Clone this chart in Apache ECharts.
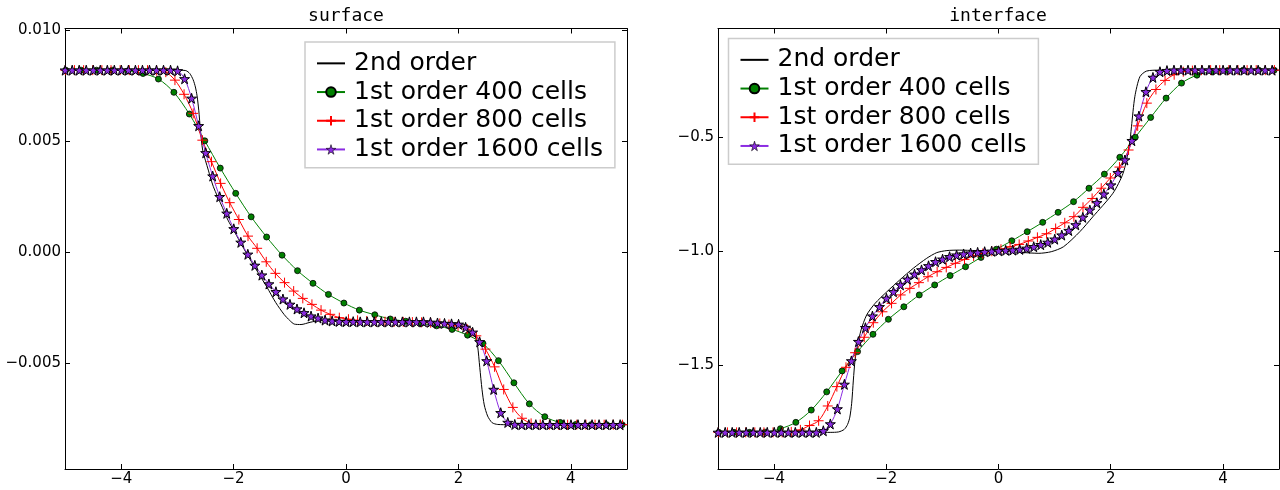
<html>
<head>
<meta charset="utf-8">
<title>surface / interface</title>
<script src="https://cdn.jsdelivr.net/npm/echarts@6.0.0/dist/echarts.min.js"></script>
<style>
body { margin: 0; background: #fff; }
#main { width: 1280px; height: 490px; }
</style>
</head>
<body>
<div id="main"></div>
<script type="text/javascript">
// tick positions and labels
var xTicks = [-4, -2, 0, 2, 4];
var xTickLabels = ['−4', '−2', '0', '2', '4'];
var surfaceTicks = [-0.005, 0, 0.005, 0.01];
var surfaceTickLabels = ['−0.005', '0.000', '0.005', '0.010'];
var interfaceTicks = [-1.5, -1.0, -0.5];
var interfaceTickLabels = ['−1.5', '−1.0', '−0.5'];

var seriesNames = ['2nd order', '1st order 400 cells', '1st order 800 cells', '1st order 1600 cells'];

// 2nd order (solid line only)
var blackSurfaceX = [-5, -3.5, -3.0, -2.85, -2.78, -2.72, -2.68, -2.65, -2.62, -2.59, -2.55, -2.45, -2.36, -2.2, -2.1, -2.0, -1.77, -1.6, -1.41, -1.25, -1.1, -1.0, -0.92, -0.8, -0.64, -0.46, -0.3, 0, 1.0, 1.8, 2.0, 2.15, 2.25, 2.3, 2.34, 2.38, 2.42, 2.46, 2.52, 2.6, 2.7, 2.9, 5];
var blackSurfaceY = [0.00821, 0.00821, 0.00821, 0.00819, 0.00806, 0.00778, 0.00745, 0.00705, 0.0064, 0.0055, 0.0046, 0.0037, 0.00295, 0.00202, 0.00144, 0.00099, -0.00006, -0.00078, -0.00157, -0.00228, -0.00282, -0.00309, -0.00325, -0.00327, -0.00317, -0.00309, -0.00312, -0.00315, -0.00316, -0.00319, -0.00322, -0.0033, -0.0035, -0.0038, -0.0042, -0.0052, -0.0062, -0.0069, -0.0074, -0.0077, -0.00778, -0.00779, -0.00779];
var blackInterfaceX = [-5, -3.0, -2.85, -2.75, -2.69, -2.65, -2.617, -2.587, -2.557, -2.516, -2.45, -2.35, -2.2, -1.99, -1.76, -1.52, -1.28, -1.1, -0.92, -0.7, -0.4, 0, 0.4, 0.72, 0.94, 1.16, 1.45, 1.68, 2.04, 2.22, 2.33, 2.37, 2.43, 2.52, 2.64, 2.87, 5];
var blackInterfaceY = [-1.797, -1.797, -1.795, -1.784, -1.762, -1.73, -1.669, -1.567, -1.479, -1.42, -1.347, -1.281, -1.23, -1.179, -1.127, -1.076, -1.032, -1.007, -0.998, -0.996, -0.998, -1.0, -1.006, -1.01, -1.003, -0.981, -0.915, -0.85, -0.746, -0.659, -0.542, -0.454, -0.322, -0.234, -0.209, -0.205, -0.205];

// 1st order 400 cells (marked points)
var x400 = [-4.9875, -4.7125, -4.4375, -4.1625, -3.8875, -3.6125, -3.3375, -3.0625, -2.7875, -2.5125,
  -2.2375, -1.9625, -1.6875, -1.4125, -1.1375, -0.8625, -0.5875, -0.3125, -0.0375, 0.2375,
  0.5125, 0.7875, 1.0625, 1.3375, 1.6125, 1.8875, 2.1625, 2.4375, 2.7125, 2.9875,
  3.2625, 3.5375, 3.8125, 4.0875, 4.3625, 4.6375, 4.9125];
var surface400 = [0.00821, 0.00821, 0.00821, 0.00821, 0.00817, 0.00806, 0.00781, 0.00721, 0.00623, 0.00502,
  0.00379, 0.00265, 0.00159, 0.00068, -0.00014, -0.00084, -0.00141, -0.00191, -0.0023, -0.00262,
  -0.00283, -0.00302, -0.00312, -0.00322, -0.00333, -0.00349, -0.00375, -0.00413, -0.0049, -0.0059,
  -0.00685, -0.00743, -0.00769, -0.00778, -0.00779, -0.00779, -0.00779];
var interface400 = [-1.797, -1.797, -1.797, -1.796, -1.781, -1.753, -1.699, -1.619, -1.527, -1.442,
  -1.366, -1.300, -1.245, -1.193, -1.149, -1.108, -1.069, -1.028, -0.992, -0.955,
  -0.915, -0.874, -0.830, -0.783, -0.724, -0.662, -0.588, -0.500, -0.413, -0.328,
  -0.262, -0.227, -0.212, -0.207, -0.205, -0.205, -0.205];

// 1st order 800 cells
var x800 = [-4.99375, -4.83125, -4.66875, -4.50625, -4.34375, -4.18125, -4.01875, -3.85625, -3.69375, -3.53125,
  -3.36875, -3.20625, -3.04375, -2.88125, -2.71875, -2.55625, -2.39375, -2.23125, -2.06875, -1.90625,
  -1.74375, -1.58125, -1.41875, -1.25625, -1.09375, -0.93125, -0.76875, -0.60625, -0.44375, -0.28125,
  -0.11875, 0.04375, 0.20625, 0.36875, 0.53125, 0.69375, 0.85625, 1.01875, 1.18125, 1.34375,
  1.50625, 1.66875, 1.83125, 1.99375, 2.15625, 2.31875, 2.48125, 2.64375, 2.80625, 2.96875,
  3.13125, 3.29375, 3.45625, 3.61875, 3.78125, 3.94375, 4.10625, 4.26875, 4.43125, 4.59375,
  4.75625, 4.91875];
var surface800 = [0.00821, 0.00821, 0.00821, 0.00821, 0.00821, 0.00821, 0.00821, 0.00821, 0.00821, 0.00821,
  0.00819, 0.00812, 0.00776, 0.00712, 0.00626, 0.00505, 0.00408, 0.00310, 0.00223, 0.00147,
  0.00072, 0.00017, -0.00044, -0.00096, -0.00138, -0.00176, -0.00209, -0.00236, -0.00262, -0.00281,
  -0.00296, -0.00303, -0.00308, -0.00311, -0.00313, -0.00314, -0.00315, -0.00315, -0.00316, -0.00317,
  -0.00319, -0.00322, -0.00327, -0.00334, -0.00348, -0.00378, -0.00438, -0.00518, -0.0062, -0.00701,
  -0.0075, -0.00773, -0.00778, -0.00779, -0.00779, -0.00779, -0.00779, -0.00779, -0.00779, -0.00779,
  -0.00779, -0.00779];
var interface800 = [-1.797, -1.797, -1.797, -1.797, -1.797, -1.797, -1.797, -1.797, -1.795, -1.786,
  -1.767, -1.746, -1.681, -1.596, -1.511, -1.447, -1.379, -1.315, -1.267, -1.230,
  -1.193, -1.164, -1.139, -1.113, -1.091, -1.072, -1.054, -1.037, -1.022, -1.011,
  -1.001, -0.992, -0.981, -0.971, -0.956, -0.940, -0.924, -0.901, -0.876, -0.849,
  -0.808, -0.769, -0.724, -0.679, -0.631, -0.556, -0.450, -0.350, -0.290, -0.250,
  -0.225, -0.212, -0.207, -0.205, -0.205, -0.205, -0.205, -0.205, -0.205, -0.205,
  -0.205, -0.205];

// 1st order 1600 cells
var x1600 = [-4.997, -4.872, -4.747, -4.622, -4.497, -4.372, -4.247, -4.122, -3.997, -3.872,
  -3.747, -3.622, -3.497, -3.372, -3.247, -3.122, -2.997, -2.872, -2.747, -2.622,
  -2.497, -2.372, -2.247, -2.122, -1.997, -1.872, -1.747, -1.622, -1.497, -1.372,
  -1.247, -1.122, -0.997, -0.872, -0.747, -0.622, -0.497, -0.372, -0.247, -0.122,
  0.003, 0.128, 0.253, 0.378, 0.503, 0.628, 0.753, 0.878, 1.003, 1.128,
  1.253, 1.378, 1.503, 1.628, 1.753, 1.878, 2.003, 2.128, 2.253, 2.378,
  2.503, 2.628, 2.753, 2.878, 3.003, 3.128, 3.253, 3.378, 3.503, 3.628,
  3.753, 3.878, 4.003, 4.128, 4.253, 4.378, 4.503, 4.628, 4.753, 4.878];
var surface1600 = [0.00821, 0.00821, 0.00821, 0.00821, 0.00821, 0.00821, 0.00821, 0.00821, 0.00821, 0.00821,
  0.00821, 0.00821, 0.00821, 0.00821, 0.00821, 0.00821, 0.00818, 0.00782, 0.00694, 0.00570,
  0.00448, 0.00343, 0.00250, 0.00175, 0.00105, 0.00044, -0.00010, -0.00060, -0.00104, -0.00144,
  -0.00179, -0.00212, -0.00236, -0.00257, -0.00274, -0.00289, -0.00298, -0.00307, -0.00311, -0.00313,
  -0.00314, -0.00314, -0.00315, -0.00315, -0.00315, -0.00315, -0.00315, -0.00315, -0.00315, -0.00315,
  -0.00315, -0.00315, -0.00317, -0.0032, -0.00322, -0.00324, -0.00326, -0.0034, -0.00362, -0.00405,
  -0.00491, -0.0062, -0.00725, -0.00769, -0.00778, -0.00779, -0.00779, -0.00779, -0.00779, -0.00779,
  -0.00779, -0.00779, -0.00779, -0.00779, -0.00779, -0.00779, -0.00779, -0.00779, -0.00779, -0.00779];
var interface1600 = [-1.797, -1.797, -1.797, -1.797, -1.797, -1.797, -1.797, -1.797, -1.797, -1.797,
  -1.797, -1.797, -1.797, -1.797, -1.797, -1.790, -1.760, -1.694, -1.586, -1.483,
  -1.398, -1.337, -1.286, -1.245, -1.208, -1.179, -1.149, -1.124, -1.102, -1.083,
  -1.065, -1.047, -1.036, -1.025, -1.018, -1.013, -1.009, -1.006, -1.003, -1.001,
  -0.999, -0.997, -0.996, -0.993, -0.988, -0.981, -0.972, -0.962, -0.948, -0.930,
  -0.910, -0.885, -0.852, -0.820, -0.788, -0.750, -0.710, -0.656, -0.600, -0.515,
  -0.407, -0.300, -0.237, -0.212, -0.207, -0.205, -0.205, -0.205, -0.205, -0.205,
  -0.205, -0.205, -0.205, -0.205, -0.205, -0.205, -0.205, -0.205, -0.205, -0.205];

var plusPath = 'path://M0,5L10,5M5,0L5,10';
var starPath = 'path://M50,0L61,35L98,35L68,57L79,91L50,70L21,91L32,57L2,35L39,35Z';

function pairs(xs, ys) {
  return xs.map(function (x, i) { return [x, ys[i]]; });
}

function pickLabel(ticks, labels) {
  return function (v) {
    for (var i = 0; i < ticks.length; i++) {
      if (Math.abs(ticks[i] - v) < 1e-9) return labels[i];
    }
    return '';
  };
}

var tickFont = { fontFamily: 'DejaVu Sans', fontSize: 15, color: '#000' };

function xAxisPair(grid) {
  var base = {
    type: 'value', gridIndex: grid, min: -5, max: 5,
    axisLine: { show: true, onZero: false, lineStyle: { color: '#000', width: 1 } },
    axisTick: { show: true, inside: true, length: 5, customValues: xTicks, lineStyle: { color: '#000' } },
    splitLine: { show: false }
  };
  var bottom = echarts.util.merge({
    position: 'bottom',
    axisLabel: echarts.util.extend({ margin: 3, customValues: xTicks, formatter: pickLabel(xTicks, xTickLabels) }, tickFont)
  }, base, true);
  var top = echarts.util.merge({ position: 'top', axisLabel: { show: false } }, base, true);
  return [bottom, top];
}

function yAxisPair(grid, min, max, ticks, labels) {
  var base = {
    type: 'value', gridIndex: grid, min: min, max: max,
    axisLine: { show: true, onZero: false, lineStyle: { color: '#000', width: 1 } },
    axisTick: { show: true, inside: true, length: 5, customValues: ticks, lineStyle: { color: '#000' } },
    splitLine: { show: false }
  };
  var left = echarts.util.merge({
    position: 'left',
    axisLabel: echarts.util.extend({ margin: 4, customValues: ticks, formatter: pickLabel(ticks, labels) }, tickFont)
  }, base, true);
  var right = echarts.util.merge({ position: 'right', axisLabel: { show: false } }, base, true);
  return [left, right];
}

function plotSeries(xi, yi, blackX, blackY, y400, y800, y1600) {
  return [
    {
      name: seriesNames[0], type: 'line', xAxisIndex: xi, yAxisIndex: yi,
      data: pairs(blackX, blackY), symbol: 'none', smooth: 0.25,
      lineStyle: { color: '#000', width: 1 }, itemStyle: { color: '#000' }
    },
    {
      name: seriesNames[1], type: 'line', xAxisIndex: xi, yAxisIndex: yi,
      data: pairs(x400, y400), symbol: 'circle', symbolSize: 6, smooth: 0.3,
      lineStyle: { color: '#008000', width: 1 },
      itemStyle: { color: '#008000', borderColor: '#000', borderWidth: 0.8 }
    },
    {
      name: seriesNames[2], type: 'line', xAxisIndex: xi, yAxisIndex: yi,
      data: pairs(x800, y800), symbol: plusPath, symbolSize: 10, smooth: 0.3,
      lineStyle: { color: '#ff0000', width: 1 },
      itemStyle: { color: '#ff0000', borderColor: '#ff0000', borderWidth: 1 }
    },
    {
      name: seriesNames[3], type: 'line', xAxisIndex: xi, yAxisIndex: yi,
      data: pairs(x1600, y1600), symbol: starPath, symbolSize: 10, smooth: 0.3,
      lineStyle: { color: '#8b2be2', width: 1 },
      itemStyle: { color: '#8b2be2', borderColor: '#000', borderWidth: 1 }
    }
  ];
}

function legendAt(left, top) {
  return {
    data: [
      { name: seriesNames[0], itemStyle: { opacity: 0 } },
      seriesNames[1],
      seriesNames[2],
      { name: seriesNames[3], itemStyle: { borderWidth: 0.6 } }
    ],
    orient: 'vertical', left: left, top: top,
    itemWidth: 28, itemHeight: 12, itemGap: 0,
    padding: [7, 12, 4, 11],
    backgroundColor: '#fff', borderColor: '#cccccc', borderWidth: 1.5, borderRadius: 0,
    textStyle: { fontFamily: 'DejaVu Sans', fontSize: 25, lineHeight: 28.7, color: '#000', padding: [0, 0, 0, 4] },
    selectedMode: false
  };
}

var myChart = echarts.init(document.getElementById('main'));
var xs = xAxisPair(0).concat(xAxisPair(1));
var ys = yAxisPair(0, -0.00979, 0.01009, surfaceTicks, surfaceTickLabels)
  .concat(yAxisPair(1, -1.958, -0.022, interfaceTicks, interfaceTickLabels));

myChart.setOption({
  animation: false,
  title: [
    { text: 'surface', left: 346, top: 7, padding: 0, textAlign: 'center',
      textStyle: { fontFamily: 'DejaVu Sans Mono', fontSize: 18, fontWeight: 'normal', color: '#000' } },
    { text: 'interface', left: 998, top: 7, padding: 0, textAlign: 'center',
      textStyle: { fontFamily: 'DejaVu Sans Mono', fontSize: 18, fontWeight: 'normal', color: '#000' } }
  ],
  grid: [
    { left: 65, top: 28.5, width: 562, height: 440.5 },
    { left: 718, top: 28.5, width: 561, height: 440.5 }
  ],
  legend: [legendAt(305, 42), legendAt(728.5, 38.5)],
  xAxis: xs,
  yAxis: ys,
  series: plotSeries(0, 0, blackSurfaceX, blackSurfaceY, surface400, surface800, surface1600)
    .concat(plotSeries(2, 2, blackInterfaceX, blackInterfaceY, interface400, interface800, interface1600))
});
</script>
</body>
</html>
